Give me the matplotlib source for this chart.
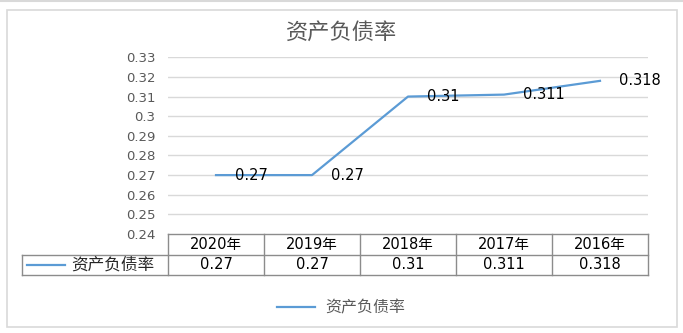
import numpy as np
import matplotlib.pyplot as plt
from matplotlib.lines import Line2D
from matplotlib.patches import Rectangle

years = ['2020年', '2019年', '2018年', '2017年', '2016年']
ratio = [0.27, 0.27, 0.31, 0.311, 0.318]
series_name = '资产负债率'
yticks = np.round(np.arange(0.24, 0.3301, 0.01), 2)

plt.rcParams['font.family'] = ['DejaVu Sans', 'Noto Sans CJK SC']

line_color = '#5B9BD5'
grid_color = '#D9D9D9'
table_color = '#8C8C8C'
text_gray = '#595959'

W, H = 683, 333
fig = plt.figure(figsize=(W / 100, H / 100), dpi=100)

# outer frame of the chart object
fig.add_artist(Rectangle((7 / W, 1 - 327 / H), 670 / W, 317 / H, transform=fig.transFigure,
                         fill=False, edgecolor='#D9D9D9', lw=1.2))
fig.add_artist(Line2D([0, 1], [1 - 1 / H, 1 - 1 / H], transform=fig.transFigure,
                      color='#D9D9D9', lw=1.5))

ax = fig.add_axes([168 / W, 1 - 234 / H, 480 / W, 176.7 / H])
x = np.arange(len(years))
ax.plot(x, ratio, color=line_color, lw=1.6, zorder=3)
for xi, v in zip(x, ratio):
    ax.annotate(f'{v:g}', (xi, v), xytext=(14, 0), textcoords='offset points',
                ha='left', va='center', fontsize=10.5, color='black', zorder=4)

ax.set_xlim(-0.5, len(years) - 0.5)
ax.set_ylim(yticks[0], yticks[-1])
ax.set_yticks(yticks)
ax.set_yticklabels([f'{v:g}' for v in yticks])
ax.set_xticks([])
ax.tick_params(axis='y', length=0, colors=text_gray, labelsize=9.5, pad=9)
for s in ax.spines.values():
    s.set_visible(False)
for v in yticks[1:]:
    ax.axhline(v, color=grid_color, lw=1, zorder=1)

# data table under the plot
trans = ax.get_xaxis_transform()
row_h = 20.5 / 176.7
r1 = -row_h
r2 = -2 * row_h
left_hdr = -146 / 480
kw = dict(transform=ax.transAxes, color=table_color, lw=1, clip_on=False)
ax.add_line(Line2D([0, 1], [0, 0], **kw))
ax.add_line(Line2D([left_hdr, 1], [r1, r1], **kw))
ax.add_line(Line2D([left_hdr, 1], [r2, r2], **kw))
ax.add_line(Line2D([left_hdr, left_hdr], [r1, r2], **kw))
for i in range(len(years) + 1):
    xb = i / len(years)
    ax.add_line(Line2D([xb, xb], [0, r2], **kw))
for xi, yr, v in zip(x, years, ratio):
    ax.text(xi, r1 / 2, yr, transform=trans, ha='center', va='center', fontsize=10.5)
    ax.text(xi, (r1 + r2) / 2, f'{v:g}', transform=trans, ha='center', va='center', fontsize=10.5)
ax.add_line(Line2D([-141 / 480, -103 / 480], [(r1 + r2) / 2] * 2, transform=ax.transAxes,
                   color=line_color, lw=1.6, clip_on=False))
ax.text(-97 / 480, (r1 + r2) / 2, series_name, transform=ax.transAxes, ha='left', va='center',
        fontsize=12, fontweight='light', color='#262626')

fig.text(0.5, 1 - 32 / H, series_name, ha='center', va='center', fontsize=16,
         fontweight='light', color=text_gray)

handle = Line2D([], [], color=line_color, lw=1.6)
fig.legend([handle], [series_name], loc='center', bbox_to_anchor=(341 / W, 1 - 308 / H),
           frameon=False, fontsize=11.5, handlelength=2.4, handletextpad=0.6,
           labelcolor=text_gray)

fig.savefig('out.png', dpi=100)
